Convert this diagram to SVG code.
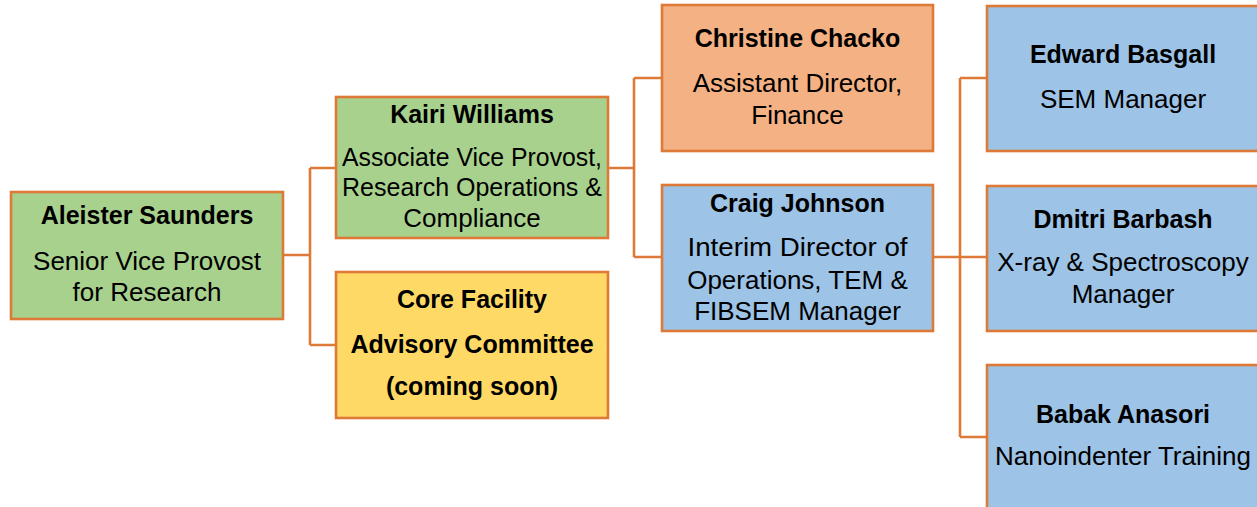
<svg xmlns="http://www.w3.org/2000/svg" width="1257" height="507" viewBox="0 0 1257 507">
  <style>
    .box { stroke: #DD7A38; stroke-width: 2.6; }
    .green { fill: #A9D18E; }
    .peach { fill: #F4B183; }
    .blue { fill: #9DC3E6; }
    .yellow { fill: #FFD966; }
    .link { fill: none; stroke: #DD7A38; stroke-width: 2.6; }
    text { font-family: "Liberation Sans", Arial, sans-serif; fill: #000; text-anchor: middle; }
    .name { font-weight: bold; font-size: 25px; }
    .role { font-size: 26px; }
  </style>
  <rect width="1257" height="507" fill="#fff"/>

  <g id="connectors">
    <path class="link" d="M283 255 H310 M310 168 V345 M310 168 H336 M310 345 H336"/>
    <path class="link" d="M608 168 H634 M634 78 V257 M634 78 H662 M634 257 H662"/>
    <path class="link" d="M933 257 H960 M960 78 V437 M960 78 H987 M960 257 H987 M960 437 H987"/>
  </g>

  <g id="aleister-saunders">
    <rect class="box green" x="11" y="192" width="272" height="127"/>
    <text class="name" x="147" y="224">Aleister Saunders</text>
    <text class="role" x="147" y="270">Senior Vice Provost</text>
    <text class="role" x="147" y="301">for Research</text>
  </g>

  <g id="kairi-williams">
    <rect class="box green" x="336" y="97" width="272" height="141"/>
    <text class="name" x="472" y="123">Kairi Williams</text>
    <text class="role" x="472" y="166" textLength="260" lengthAdjust="spacingAndGlyphs">Associate Vice Provost,</text>
    <text class="role" x="472" y="196" textLength="260" lengthAdjust="spacingAndGlyphs">Research Operations &amp;</text>
    <text class="role" x="472" y="227">Compliance</text>
  </g>

  <g id="core-facility-committee">
    <rect class="box yellow" x="336" y="272" width="272" height="146"/>
    <text class="name" x="472" y="308">Core Facility</text>
    <text class="name" x="472" y="353">Advisory Committee</text>
    <text class="name" x="472" y="395">(coming soon)</text>
  </g>

  <g id="christine-chacko">
    <rect class="box peach" x="662" y="5" width="271" height="146"/>
    <text class="name" x="797.5" y="47">Christine Chacko</text>
    <text class="role" x="797.5" y="92">Assistant Director,</text>
    <text class="role" x="797.5" y="124">Finance</text>
  </g>

  <g id="craig-johnson">
    <rect class="box blue" x="662" y="185" width="271" height="146"/>
    <text class="name" x="797.5" y="212">Craig Johnson</text>
    <text class="role" x="797.5" y="256" textLength="220" lengthAdjust="spacingAndGlyphs">Interim Director of</text>
    <text class="role" x="797.5" y="289">Operations, TEM &amp;</text>
    <text class="role" x="797.5" y="320">FIBSEM Manager</text>
  </g>

  <g id="edward-basgall">
    <rect class="box blue" x="987" y="6" width="272" height="145"/>
    <text class="name" x="1123" y="63">Edward Basgall</text>
    <text class="role" x="1123" y="108">SEM Manager</text>
  </g>

  <g id="dmitri-barbash">
    <rect class="box blue" x="987" y="186" width="272" height="145"/>
    <text class="name" x="1123" y="228">Dmitri Barbash</text>
    <text class="role" x="1123" y="271">X-ray &amp; Spectroscopy</text>
    <text class="role" x="1123" y="303">Manager</text>
  </g>

  <g id="babak-anasori">
    <rect class="box blue" x="987" y="365" width="272" height="150"/>
    <text class="name" x="1123" y="423">Babak Anasori</text>
    <text class="role" x="1123" y="465">Nanoindenter Training</text>
  </g>
</svg>
